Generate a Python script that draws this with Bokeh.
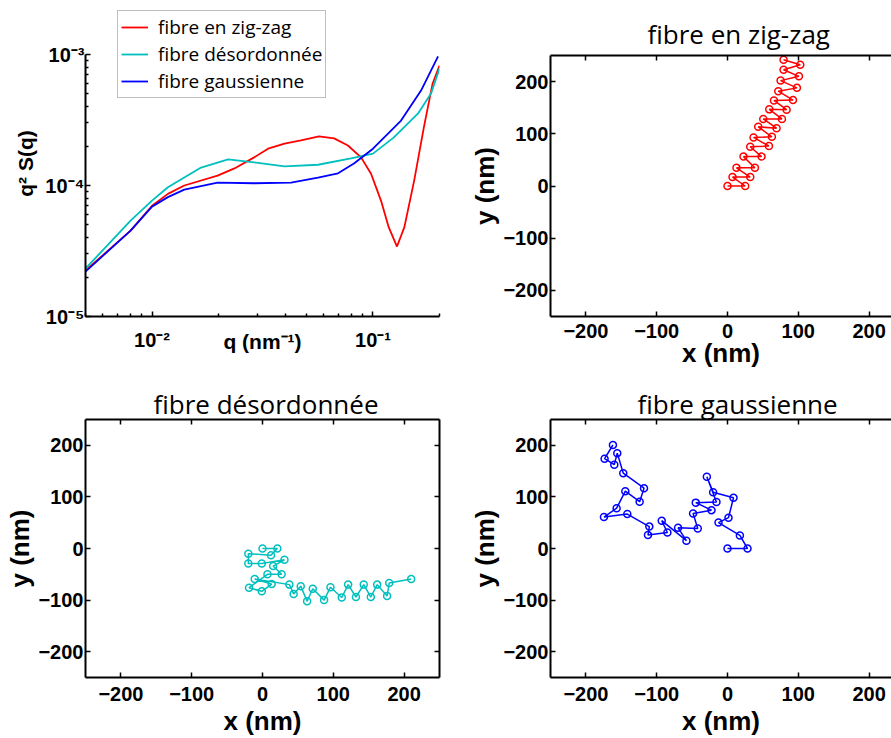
from bokeh.plotting import figure
from bokeh.models import (LinearAxis, FixedTicker, CustomJSTickFormatter, Range1d)
from bokeh.layouts import column, row
from bokeh.embed import file_html
from bokeh.resources import INLINE

# ---------------- data ----------------
# q^2 S(q) curves (log-log)
q_zigzag = [0.005, 0.0080, 0.010, 0.0118, 0.0140, 0.0198, 0.0236, 0.029, 0.0335, 0.0398,
            0.0472, 0.057, 0.0667, 0.077, 0.0883, 0.098, 0.1087, 0.1178, 0.1284, 0.1387,
            0.1536, 0.170, 0.186, 0.200]
s_zigzag = [2.24e-5, 4.53e-5, 7.0e-5, 8.63e-5, 1.0e-4, 1.19e-4, 1.35e-4, 1.64e-4, 1.91e-4, 2.09e-4,
            2.21e-4, 2.37e-4, 2.29e-4, 2.02e-4, 1.64e-4, 1.23e-4, 7.67e-5, 4.81e-5, 3.42e-5, 4.81e-5,
            1.09e-4, 2.79e-4, 5.97e-4, 8.24e-4]

q_desord = [0.005, 0.0080, 0.010, 0.0118, 0.01667, 0.0221, 0.029, 0.0398, 0.0564, 0.0795,
            0.100, 0.124, 0.160, 0.183, 0.200]
s_desord = [2.32e-5, 5.4e-5, 7.67e-5, 9.7e-5, 1.37e-4, 1.58e-4, 1.5e-4, 1.40e-4, 1.44e-4, 1.61e-4,
            1.75e-4, 2.32e-4, 3.55e-4, 5.03e-4, 7.8e-4]

q_gauss = [0.005, 0.0080, 0.010, 0.0118, 0.0140, 0.0198, 0.029, 0.0426, 0.0564, 0.0695,
           0.082, 0.100, 0.134, 0.165, 0.197]
s_gauss = [2.2e-5, 4.53e-5, 6.9e-5, 8.15e-5, 9.3e-5, 1.05e-4, 1.04e-4, 1.05e-4, 1.15e-4, 1.24e-4,
           1.47e-4, 1.91e-4, 3.13e-4, 5.3e-4, 9.66e-4]

# fibre en zig-zag (nm)
zz_x = [0, 25, 7.1, 32.1, 12.7, 38.7, 22.6, 48.1, 32.1, 58.5, 36.8, 62.7, 43.4, 69.3,
        50.5, 76.9, 59.0, 83.5, 65.6, 92.5, 71.7, 98.1, 75.0, 100.9, 79.2, 102.8, 79.2]
zz_y = [0, 0, 17.1, 17.1, 34.8, 34.8, 56.3, 56.3, 75.3, 76.6, 93.0, 94.3, 113.3, 110.8,
        128.5, 128.5, 146.8, 146.2, 163.9, 164.6, 181.6, 188.0, 201.9, 210.1, 222.8, 232.3, 241.8]

# fibre désordonnée (nm)
de_x = [0, 21, 12, -20, -20, -1, 31, 15, 27, 7, -19, -1, 13, -11, 38, 44, 54, 63, 71, 87,
        96, 112, 121, 132, 143, 153, 162, 176, 179, 210]
de_y = [0, 0, -13, -10, -29, -29, -22, -34, -50, -50, -76, -83, -69, -59, -70, -88, -73, -102, -78, -100,
        -75, -95, -70, -94, -70, -94, -70, -92, -67, -59]

# fibre gaussienne (nm)
ga_x = [0, 28.3, 17.5, -12.7, 1.4, 8.5, -20.3, -29.2, -15.6, -44.8, -22.6, -48.6, -42.0, -69.8, -58.0,
        -92.9, -84.9, -112.3, -110.4, -141.5, -174.5, -156.6, -144.3, -124.1, -117.9, -147.2, -155.7,
        -159.9, -173.6, -161.8]
ga_y = [0, 0, 25.4, 50.2, 59.7, 98.4, 109.2, 139.0, 90.2, 88.9, 74.3, 67.9, 38.7, 40.0, 15.2,
        54.0, 31.1, 26.0, 42.5, 66.7, 61.0, 78.1, 111.1, 90.8, 116.8, 146.0, 184.8, 162.5, 174.0, 200.6]

xy_ticks = [-200, -100, 0, 100, 200]
log_x_major = [0.01, 0.1]
log_y_major = [1e-5, 1e-4, 1e-3]

RED = "#ff0000"
CYAN = "#00bfbf"
BLUE = "#0000ff"
BOLD = "Liberation Sans"
SANS = "Open Sans"

SUP_JS = """
const sup = {"-": "\u207b", "0": "\u2070", "1": "\u00b9", "2": "\u00b2", "3": "\u00b3",
             "4": "\u2074", "5": "\u2075", "6": "\u2076", "7": "\u2077", "8": "\u2078", "9": "\u2079"};
const e = Math.round(Math.log10(tick));
return "10" + String(e).split("").map(c => sup[c]).join("");
"""


def no_align(p):
    if "frame_align" in p.properties():
        p.frame_align = False


def style_axis(ax, label=None, tick_fs="20px", label_fs="26px", tick_standoff=4, label_standoff=2,
               show_labels=True):
    ax.axis_line_width = 2
    ax.axis_line_color = "black"
    ax.major_tick_in = 5
    ax.major_tick_out = 0
    ax.minor_tick_in = 0
    ax.minor_tick_out = 0
    ax.major_tick_line_width = 1.5
    ax.major_tick_line_color = "black"
    ax.major_label_text_font = BOLD
    ax.major_label_text_font_style = "bold"
    ax.major_label_text_color = "black"
    ax.major_label_standoff = tick_standoff
    if show_labels:
        ax.major_label_text_font_size = tick_fs
    else:
        ax.major_label_text_font_size = "0px"
        ax.major_label_standoff = 0
        ax.formatter = CustomJSTickFormatter(code="return '';")
    if label is not None:
        ax.axis_label = label
        ax.axis_label_text_font = BOLD
        ax.axis_label_text_font_style = "bold"
        ax.axis_label_text_font_size = label_fs
        ax.axis_label_text_color = "black"
        ax.axis_label_standoff = label_standoff


# ---------------- top-left: log-log plot ----------------
# frame spans from the legend top down to the x axis; y axis line limited to 1e-5..1e-3
log_top = 10 ** (-5 + 306 / 131)
p1 = figure(width=450, height=370, x_axis_type="log", y_axis_type="log",
            x_range=Range1d(0.005, 0.2), y_range=Range1d(1e-5, log_top),
            output_backend="svg", toolbar_location=None,
            min_border_left=85, min_border_right=11, min_border_top=10, min_border_bottom=54)
no_align(p1)
p1.outline_line_color = None
p1.xgrid.visible = False
p1.ygrid.visible = False
p1.background_fill_color = "white"
p1.border_fill_color = "white"

xminor = [k * 10.0 ** e for e in (-3, -2, -1) for k in range(2, 10)]
yminor = [k * 10.0 ** e for e in (-5, -4) for k in range(2, 10)]
p1.xaxis.ticker = FixedTicker(ticks=log_x_major, minor_ticks=xminor)
p1.yaxis.ticker = FixedTicker(ticks=log_y_major, minor_ticks=yminor)
p1.xaxis.formatter = CustomJSTickFormatter(code=SUP_JS)
p1.yaxis.formatter = CustomJSTickFormatter(code=SUP_JS)
for ax in p1.xaxis:
    style_axis(ax, label="q (nm\u207b\u00b9)", tick_fs="20px", label_fs="21px",
               tick_standoff=12, label_standoff=-24)
    ax.minor_tick_in = 3
    ax.minor_tick_line_width = 1.5
for ax in p1.yaxis:
    style_axis(ax, label="q\u00b2 S(q)", tick_fs="20px", label_fs="21px",
               tick_standoff=1, label_standoff=5)
    ax.minor_tick_in = 3
    ax.minor_tick_line_width = 1.5
    ax.bounds = (1e-5, 1e-3)

p1.line(q_zigzag, s_zigzag, line_color=RED, line_width=1.8, legend_label="fibre en zig-zag")
p1.line(q_desord, s_desord, line_color=CYAN, line_width=1.8, legend_label="fibre d\u00e9sordonn\u00e9e")
p1.line(q_gauss, s_gauss, line_color=BLUE, line_width=1.8, legend_label="fibre gaussienne")

lg = p1.legend[0]
lg.location = (32, 218)
lg.margin = 0
lg.padding = 3
lg.spacing = 1
lg.glyph_width = 27
lg.glyph_height = 20
lg.label_height = 20
lg.label_standoff = 10
lg.label_text_font = SANS
lg.label_text_font_size = "19px"
lg.label_text_color = "black"
lg.border_line_color = "#808080"
lg.border_line_width = 1.2
lg.background_fill_color = "white"
lg.background_fill_alpha = 1.0


# ---------------- scatter panels ----------------
def scatter_panel(xs, ys, color, title, width, height, mbl, mbr, mbt, mbb, x_end,
                  title_offset, title_standoff, right_axis, tick_standoff, label_standoff):
    p = figure(width=width, height=height, x_range=Range1d(-250, x_end), y_range=Range1d(-250, 250),
               output_backend="svg", toolbar_location=None,
               min_border_left=mbl, min_border_right=mbr, min_border_top=mbt, min_border_bottom=mbb)
    no_align(p)
    p.outline_line_color = None
    p.xgrid.visible = False
    p.ygrid.visible = False
    p.background_fill_color = "white"
    p.border_fill_color = "white"
    p.title.text = title
    p.title.text_font = SANS
    p.title.text_font_style = "normal"
    p.title.text_font_size = "26px"
    p.title.text_color = "black"
    p.title.align = "left"
    p.title.offset = title_offset
    p.title.standoff = title_standoff
    ticker = FixedTicker(ticks=xy_ticks)
    p.xaxis.ticker = ticker
    p.yaxis.ticker = ticker
    for ax in p.xaxis:
        style_axis(ax, label="x (nm)", tick_standoff=tick_standoff, label_standoff=label_standoff)
    for ax in p.yaxis:
        style_axis(ax, label="y (nm)", tick_standoff=2, label_standoff=0)
    top = LinearAxis(ticker=ticker)
    style_axis(top, show_labels=False)
    p.add_layout(top, "above")
    if right_axis:
        rgt = LinearAxis(ticker=ticker)
        style_axis(rgt, show_labels=False)
        p.add_layout(rgt, "right")
    p.line(xs, ys, line_color=color, line_width=1.5)
    p.scatter(xs, ys, marker="circle", size=7, line_color=color, line_width=1.5, fill_color=None)
    return p


right_x_end = -250 + 341 / 0.708

p2 = scatter_panel(zz_x, zz_y, RED, "fibre en zig-zag", 441, 370, 100, 0, 55, 54, right_x_end,
                   97, 8, False, 7, -3)
p3 = scatter_panel(de_x, de_y, CYAN, "fibre d\u00e9sordonn\u00e9e", 450, 368, 85, 11, 49, 58, 250,
                   68, -4, True, 9, 2)
p4 = scatter_panel(ga_x, ga_y, BLUE, "fibre gaussienne", 441, 368, 100, 0, 49, 58, right_x_end,
                   87, -4, False, 9, 2)

layout = column(row(p1, p2), row(p3, p4))

open("out.html", "w").write(file_html(layout, INLINE))
